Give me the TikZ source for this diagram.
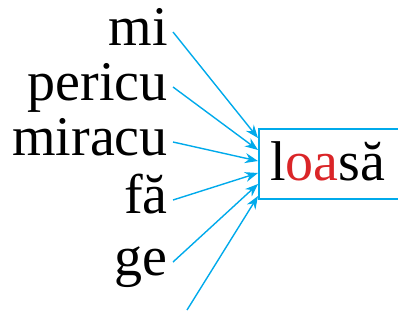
\documentclass[tikz,border=0pt]{standalone}
\usepackage{fontspec}
\setmainfont{Liberation Serif}
\usetikzlibrary{arrows.meta}
\definecolor{linkblue}{RGB}{0,170,235}
\definecolor{syllred}{RGB}{218,37,40}
\begin{document}
\begin{tikzpicture}[x=1pt, y=-1pt,
  word/.style={anchor=base east, inner ysep=0pt, inner xsep=5pt,
    text height=26pt, text depth=0pt, font=\fontsize{56}{60}\selectfont},
  link/.style={draw=linkblue, line width=1.4pt, -{Stealth[length=13pt, width=10pt]}}]
\useasboundingbox (0,0) rectangle (398,330);
\def\wx{173} 
\def\tx{258} 

\node[word] (mi) at (\wx, 45) {mi};
\node[word] (pericu) at (\wx, 100) {pericu};
\node[word] (miracu) at (\wx, 155) {miracu};
\node[word] (fa) at (\wx, 213) {fă};
\node[word] (ge) at (\wx, 275) {ge};
\coordinate (blank) at (187, 310);

\node[anchor=base west, inner sep=0pt, font=\fontsize{56}{60}\selectfont] (loasa) at (270, 180)
  {l\textcolor{syllred}{oa}să};
\draw[linkblue, line width=1.4pt] (398,129) -- (259,129) -- (259,199) -- (398,199);

\coordinate (t1) at (\tx, 138);
\coordinate (t2) at (\tx, 150);
\coordinate (t3) at (\tx, 161);
\coordinate (t4) at (\tx, 173);
\coordinate (t5) at (\tx, 184);
\coordinate (t6) at (\tx, 196);

\draw[link] (mi.east) -- (t1);
\draw[link] (pericu.east) -- (t2);
\draw[link] (miracu.east) -- (t3);
\draw[link] (fa.east) -- (t4);
\draw[link] (ge.east) -- (t5);
\draw[link] (blank) -- (t6);
\end{tikzpicture}
\end{document}
